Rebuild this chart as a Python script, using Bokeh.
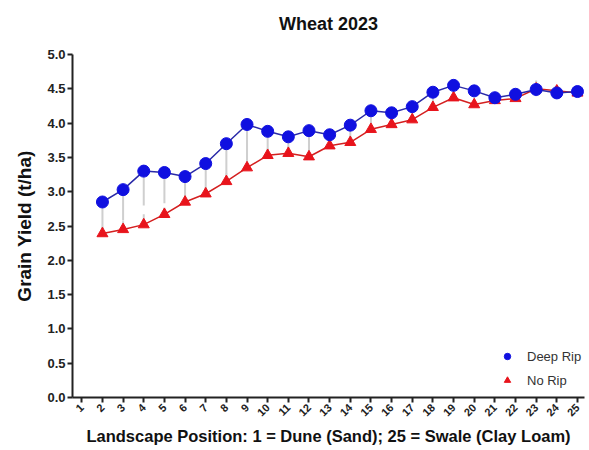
import math
from bokeh.plotting import figure
from bokeh.models import Range1d, FixedTicker, Legend, LegendItem, Title, NumeralTickFormatter
from bokeh.embed import file_html
from bokeh.resources import INLINE

positions = list(range(2, 26))
deep_rip = [2.85, 3.03, 3.30, 3.28, 3.22, 3.41, 3.70, 3.98, 3.88, 3.80, 3.89, 3.83,
            3.97, 4.18, 4.15, 4.24, 4.45, 4.55, 4.47, 4.37, 4.42, 4.49, 4.44, 4.46]
no_rip = [2.39, 2.45, 2.52, 2.67, 2.85, 2.97, 3.15, 3.35, 3.53, 3.56, 3.51, 3.67,
          3.72, 3.91, 3.98, 4.05, 4.23, 4.37, 4.27, 4.33, 4.36, 4.50, 4.47, 4.44]
deep_err = [0.42, 0.45, 0.50, 0.45, 0.35, 0.40, 0.45, 0.60, 0.30, 0.22, 0.35, 0.12,
            0.18, 0.22, 0.12, 0.12, 0.15, 0.15, 0.10, 0.06, 0.06, 0.10, 0.06, 0.06]
no_err = [0.10, 0.12, 0.15, 0.10, 0.10, 0.10, 0.12, 0.12, 0.10, 0.10, 0.08, 0.08,
          0.08, 0.08, 0.08, 0.08, 0.08, 0.08, 0.06, 0.06, 0.06, 0.12, 0.08, 0.06]
x_ticks = list(range(1, 26))
y_ticks = [0.0, 0.5, 1.0, 1.5, 2.0, 2.5, 3.0, 3.5, 4.0, 4.5, 5.0]

FONT = "Liberation Sans"

p = figure(width=589, height=450, output_backend="svg", toolbar_location=None,
           x_range=Range1d(0.55, 25.34), y_range=Range1d(0, 5),
           min_border_left=72, min_border_right=5, min_border_top=54, min_border_bottom=53)
p.outline_line_color = None
p.xgrid.visible = False
p.ygrid.visible = False

# spacer panel between the title and the plot area, then the title itself
p.add_layout(Title(text=" ", text_font=FONT, text_font_size="16px", standoff=0), "above")
p.add_layout(Title(text="Wheat 2023", align="center", standoff=4, text_font=FONT,
                   text_font_size="18px", text_font_style="bold", text_color="#111111"), "above")

# error bars (one-sided, light gray)
p.segment(x0=positions, y0=[d - e for d, e in zip(deep_rip, deep_err)], x1=positions, y1=deep_rip,
          line_color="#cfcfcf", line_width=2)
p.segment(x0=positions, y0=no_rip, x1=positions, y1=[n + e for n, e in zip(no_rip, no_err)],
          line_color="#cfcfcf", line_width=2)

p.line(positions, no_rip, line_color="#d42020", line_width=1.5)
p.line(positions, deep_rip, line_color="#2a2aa8", line_width=1.5)
r_no = p.scatter(positions, no_rip, marker="triangle", size=11, fill_color="#e8141c", line_color="#e8141c")
r_deep = p.scatter(positions, deep_rip, marker="circle", size=12, fill_color="#1010e0", line_color="#1010e0")

legend = Legend(items=[LegendItem(label="Deep Rip", renderers=[r_deep]),
                       LegendItem(label="No Rip", renderers=[r_no])],
                location=(427, 9), background_fill_alpha=0, border_line_color=None,
                label_text_font=FONT, label_text_font_size="13px", label_text_color="#333333",
                glyph_width=16, glyph_height=16, spacing=8, padding=3, label_standoff=12)
p.add_layout(legend, "center")

for ax in (p.xaxis[0], p.yaxis[0]):
    ax.axis_line_width = 2
    ax.axis_line_color = "#222222"
    ax.major_tick_line_width = 2
    ax.major_tick_line_color = "#222222"
    ax.major_tick_in = 0
    ax.major_tick_out = 5
    ax.minor_tick_line_color = None
    ax.major_label_text_font = FONT
    ax.major_label_text_font_style = "bold"
    ax.major_label_text_color = "#222222"
    ax.axis_label_text_font = FONT
    ax.axis_label_text_font_style = "bold"
    ax.axis_label_text_color = "#111111"

p.yaxis.ticker = FixedTicker(ticks=y_ticks)
p.yaxis.formatter = NumeralTickFormatter(format="0.0")
p.yaxis.major_label_text_font_size = "13px"
p.yaxis.axis_label = "Grain Yield (t/ha)"
p.yaxis.axis_label_text_font_size = "19px"
p.yaxis.major_label_standoff = 2
p.yaxis.axis_label_standoff = 9

p.xaxis.ticker = FixedTicker(ticks=x_ticks)
p.xaxis.major_label_orientation = math.pi / 4
p.xaxis.major_label_text_font_size = "11px"
p.xaxis.axis_label = "Landscape Position: 1 = Dune (Sand); 25 = Swale (Clay Loam)"
p.xaxis.axis_label_text_font_size = "16.5px"
p.xaxis.major_label_standoff = 3
p.xaxis.axis_label_standoff = 4

open("out.html", "w").write(file_html(p, INLINE))
